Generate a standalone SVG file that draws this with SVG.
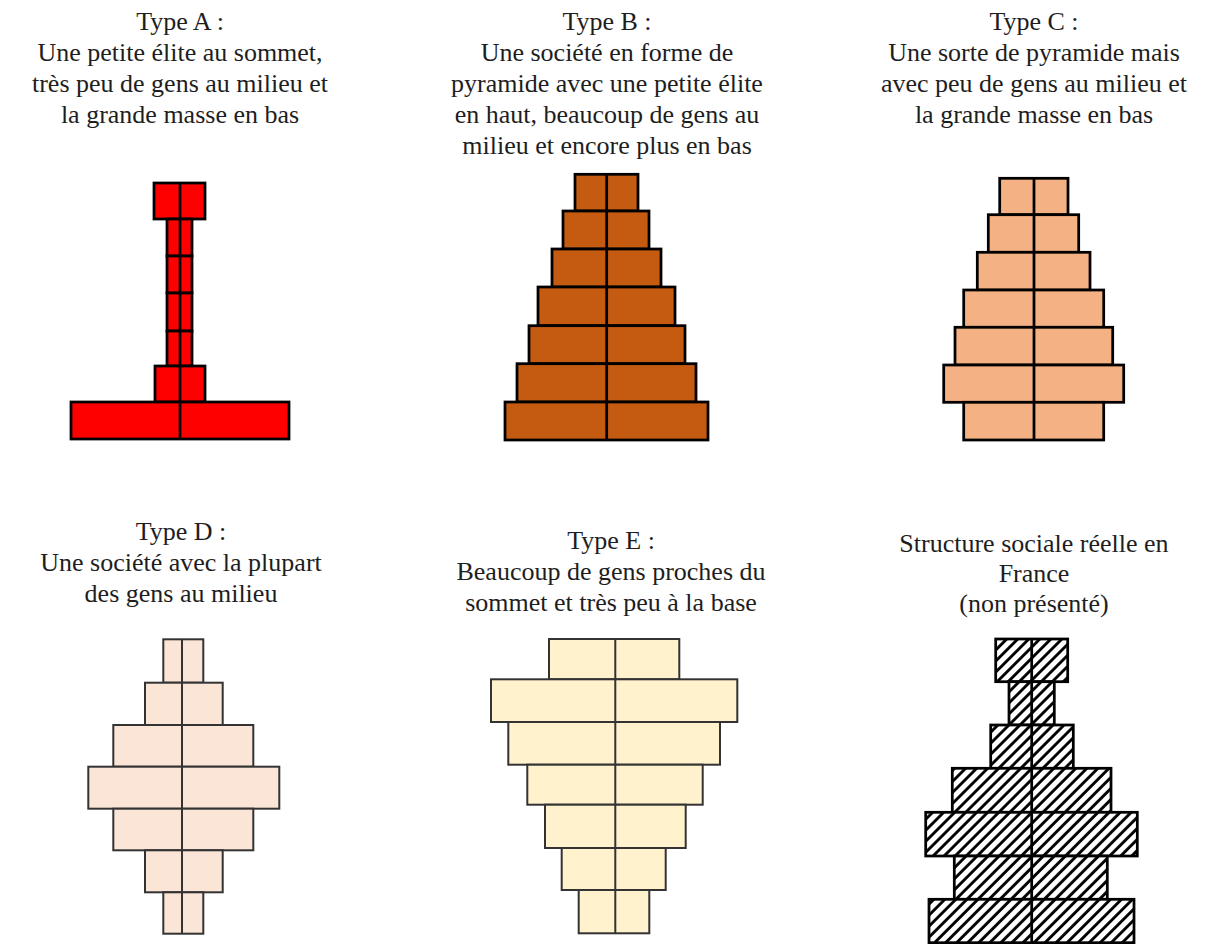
<svg xmlns="http://www.w3.org/2000/svg" width="1217" height="944" viewBox="0 0 1217 944">
<defs>
<pattern id="hatch" patternUnits="userSpaceOnUse" width="7.8" height="7.8" patternTransform="rotate(45)">
<rect x="0" y="0" width="7.8" height="7.8" fill="#ffffff"/>
<line x1="1.5" y1="0" x2="1.5" y2="7.8" stroke="#000000" stroke-width="2.9"/>
</pattern>
</defs>
<style>
text{font-family:"Liberation Serif","Times New Roman",serif;font-size:26px;fill:#1e1e1e;text-anchor:middle}
.a rect{fill:#ff0000;stroke:#000;stroke-width:2.75}
.b rect{fill:#c55a11;stroke:#000;stroke-width:2.75}
.c rect{fill:#f4b183;stroke:#000;stroke-width:2.75}
.d rect{fill:#fbe5d6;stroke:#333;stroke-width:2}
.e rect{fill:#fff2cc;stroke:#333;stroke-width:2}
.f rect{fill:url(#hatch);stroke:#000;stroke-width:2.75}
.k{stroke:#000;stroke-width:2.75}
.g{stroke:#333;stroke-width:2}
</style>
<rect width="1217" height="944" fill="#ffffff"/>

<g id="typeA">
<text x="180" y="30">Type A :</text>
<text x="180" y="61">Une petite élite au sommet,</text>
<text x="180" y="92">très peu de gens au milieu et</text>
<text x="180" y="123">la grande masse en bas</text>
<g class="a">
<rect x="154" y="183" width="51" height="36"/>
<rect x="167" y="219" width="25" height="37"/>
<rect x="167" y="256" width="25" height="37"/>
<rect x="167" y="293" width="25" height="38"/>
<rect x="167" y="331" width="25" height="35"/>
<rect x="155" y="366" width="50" height="36"/>
<rect x="71" y="402" width="218" height="37"/>
</g>
<line class="k" x1="180" y1="183" x2="180" y2="439"/>
</g>

<g id="typeB">
<text x="607" y="30">Type B :</text>
<text x="607" y="61">Une société en forme de</text>
<text x="607" y="92">pyramide avec une petite élite</text>
<text x="607" y="123">en haut, beaucoup de gens au</text>
<text x="607" y="154">milieu et encore plus en bas</text>
<g class="b">
<rect x="575" y="174.3" width="63" height="36.7"/>
<rect x="563" y="211" width="86" height="38"/>
<rect x="552" y="249" width="109" height="38"/>
<rect x="538" y="287" width="137" height="38.7"/>
<rect x="529" y="325.7" width="156" height="38"/>
<rect x="517" y="363.7" width="179" height="38.3"/>
<rect x="505" y="402" width="203" height="38"/>
</g>
<line class="k" x1="606.7" y1="174.3" x2="606.7" y2="440"/>
</g>

<g id="typeC">
<text x="1034" y="30">Type C :</text>
<text x="1034" y="61">Une sorte de pyramide mais</text>
<text x="1034" y="92">avec peu de gens au milieu et</text>
<text x="1034" y="123">la grande masse en bas</text>
<g class="c">
<rect x="999.7" y="178.3" width="68.3" height="36.4"/>
<rect x="988.3" y="214.7" width="90.4" height="37.6"/>
<rect x="977.3" y="252.3" width="112.7" height="37.7"/>
<rect x="963.7" y="290" width="140" height="37.3"/>
<rect x="955" y="327.3" width="157.7" height="37.7"/>
<rect x="943.7" y="365" width="180" height="37.3"/>
<rect x="963.7" y="402.3" width="140" height="37.7"/>
</g>
<line class="k" x1="1034" y1="178.3" x2="1034" y2="440"/>
</g>

<g id="typeD">
<text x="181" y="540">Type D :</text>
<text x="181" y="571">Une société avec la plupart</text>
<text x="181" y="602">des gens au milieu</text>
<g class="d">
<rect x="163.3" y="639.3" width="40" height="43.4"/>
<rect x="145" y="682.7" width="77.7" height="42.3"/>
<rect x="113.3" y="725" width="140" height="41.7"/>
<rect x="88.3" y="766.7" width="191" height="42"/>
<rect x="113.3" y="808.7" width="140" height="41.6"/>
<rect x="145" y="850.3" width="77.7" height="42"/>
<rect x="163.3" y="892.3" width="40" height="41.4"/>
</g>
<line class="g" x1="182" y1="639.3" x2="182" y2="933.7"/>
</g>

<g id="typeE">
<text x="611" y="549">Type E :</text>
<text x="611" y="580">Beaucoup de gens proches du</text>
<text x="611" y="611">sommet et très peu à la base</text>
<g class="e">
<rect x="549" y="639" width="130.3" height="40.3"/>
<rect x="491" y="679.3" width="246.3" height="42.7"/>
<rect x="508.3" y="722" width="211.7" height="42.7"/>
<rect x="527.3" y="764.7" width="175.4" height="40"/>
<rect x="545" y="804.7" width="140.7" height="43.3"/>
<rect x="561.7" y="848" width="104" height="42"/>
<rect x="578.7" y="890" width="70.6" height="43.3"/>
</g>
<line class="g" x1="615.3" y1="639" x2="615.3" y2="933.3"/>
</g>

<g id="france">
<text x="1034" y="552">Structure sociale réelle en</text>
<text x="1034" y="582">France</text>
<text x="1034" y="612">(non présenté)</text>
<g class="f">
<rect x="995.7" y="639" width="72" height="42.7"/>
<rect x="1009" y="681.7" width="45.3" height="43.3"/>
<rect x="990.7" y="725" width="82.6" height="43.3"/>
<rect x="952.3" y="768.3" width="158.7" height="44"/>
<rect x="925.7" y="812.3" width="211.6" height="43.7"/>
<rect x="954.3" y="856" width="153" height="43.3"/>
<rect x="929" y="899.3" width="205" height="43.4"/>
</g>
<line class="k" x1="1031.7" y1="639" x2="1031.7" y2="942.7"/>
</g>

<g id="connectors"></g>
</svg>
